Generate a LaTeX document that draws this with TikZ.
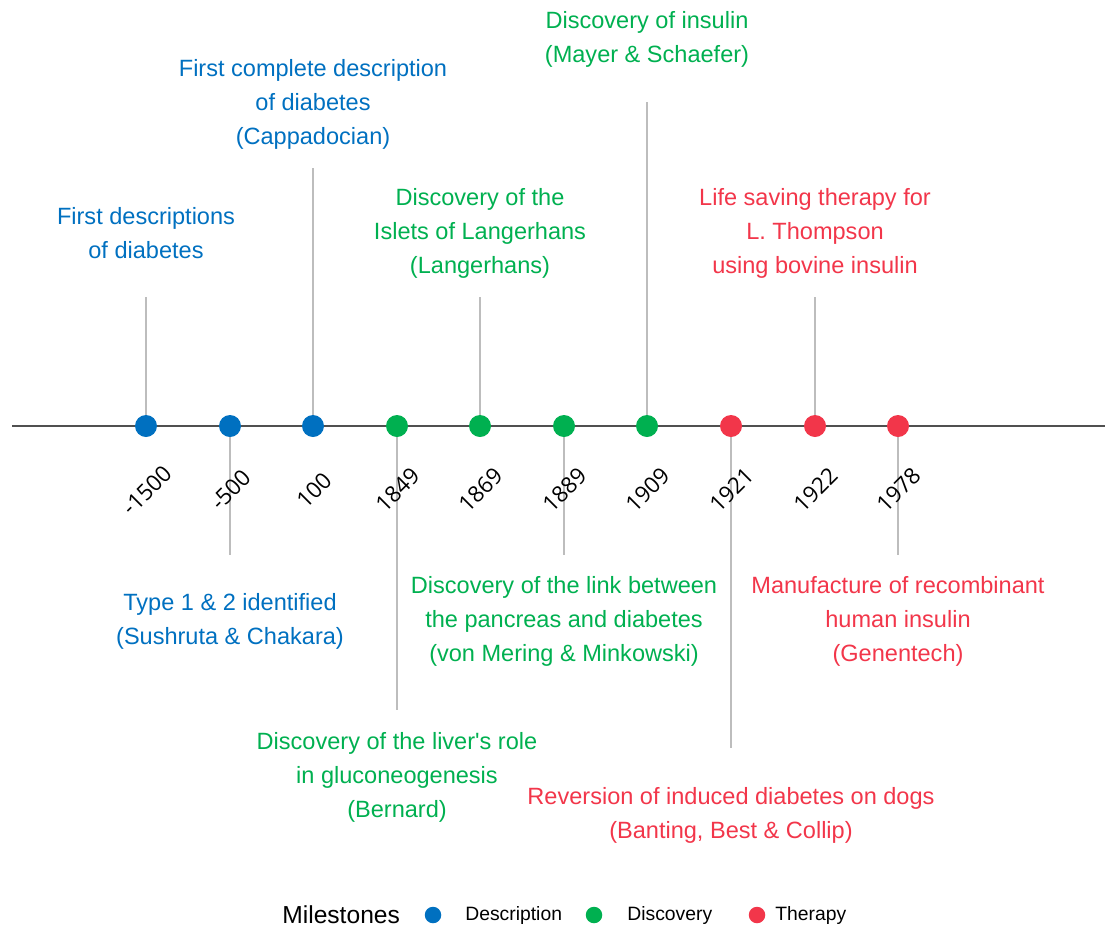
\documentclass[tikz,border=0pt]{standalone}
\usepackage{fontspec}
\setmainfont{Liberation Sans}
\newfontfamily\yearfont{Open Sans}
\definecolor{mBlue}{RGB}{0,112,192}
\definecolor{mGreen}{RGB}{0,176,80}
\definecolor{mRed}{RGB}{242,54,74}
\definecolor{mStem}{HTML}{BDBDBD}
\definecolor{mAxis}{HTML}{505050}
\usetikzlibrary{positioning}

\begin{document}
\begin{tikzpicture}[x=0.02cm, y=-0.02cm,
    dot/.style={circle, fill=#1, inner sep=0pt, minimum size=0.44cm},
    keydot/.style={circle, fill=#1, inner sep=0pt, minimum size=0.33cm},
    lbl/.style={text=#1, align=center, inner sep=0pt,
      font=\fontsize{13.4}{19.3}\selectfont},
    yr/.style={rotate=45, inner sep=0pt, font=\yearfont\fontsize{12.8}{14}\selectfont},
    stem/.style={mStem, line width=0.9pt},
    key/.style={anchor=west, inner sep=0pt, font=\fontsize{11}{13}\selectfont}]
  \useasboundingbox (0,0) rectangle (1105,927);
  % time axis
  \coordinate (axL) at (12,426);
  \coordinate (axR) at (1105,426);
  \draw[mAxis, line width=0.7pt] (axL) -- (axR);
  % x / year / colour / stem end / label centre / label
  \foreach \i/\x/\yr/\col/\s/\t/\txt in {
      1/146/-1500/mBlue/297/233/{First descriptions\\of diabetes},
      2/230/-500/mBlue/555/621/{Type 1 \& 2 identified\\(Sushruta \& Chakara)},
      3/313/100/mBlue/168/104/{First complete description\\of diabetes\\(Cappadocian)},
      4/397/1849/mGreen/710/777/{Discovery of the liver\textquotesingle s role\\in gluconeogenesis\\(Bernard)},
      5/480/1869/mGreen/297/233/{Discovery of the\\Islets of Langerhans\\(Langerhans)},
      6/564/1889/mGreen/555/621/{Discovery of the link between\\the pancreas and diabetes\\(von Mering \& Minkowski)},
      7/647/1909/mGreen/102/39/{Discovery of insulin\\(Mayer \& Schaefer)},
      8/731/1921/mRed/748/815/{Reversion of induced diabetes on dogs\\(Banting, Best \& Collip)},
      9/815/1922/mRed/297/233/{Life saving therapy for\\L. Thompson\\using bovine insulin},
      10/898/1978/mRed/555/621/{Manufacture of recombinant\\human insulin\\(Genentech)}}{
    \coordinate (stem\i) at (\x,\s);
    \coordinate (pos\i) at (\x,426);
    \draw[stem] (pos\i) -- (stem\i);
    \node[dot=\col] (dot\i) at (pos\i) {};
    \node[yr] (year\i) at (\x+1,490) {\yr};
    \node[lbl=\col] (lbl\i) at (\x,\t) {\txt};
  }
  % legend
  \node[key, font=\fontsize{14}{16}\selectfont] (keyT) at (282,915) {Milestones};
  \node[keydot=mBlue] (keyB) at (433,915) {};
  \node[key] (keyBt) at (465,915) {Description};
  \node[keydot=mGreen] (keyG) at (594,915) {};
  \node[key] (keyGt) at (627,915) {Discovery};
  \node[keydot=mRed] (keyR) at (757,915) {};
  \node[key] (keyRt) at (775,915) {Therapy};
\end{tikzpicture}
\end{document}
